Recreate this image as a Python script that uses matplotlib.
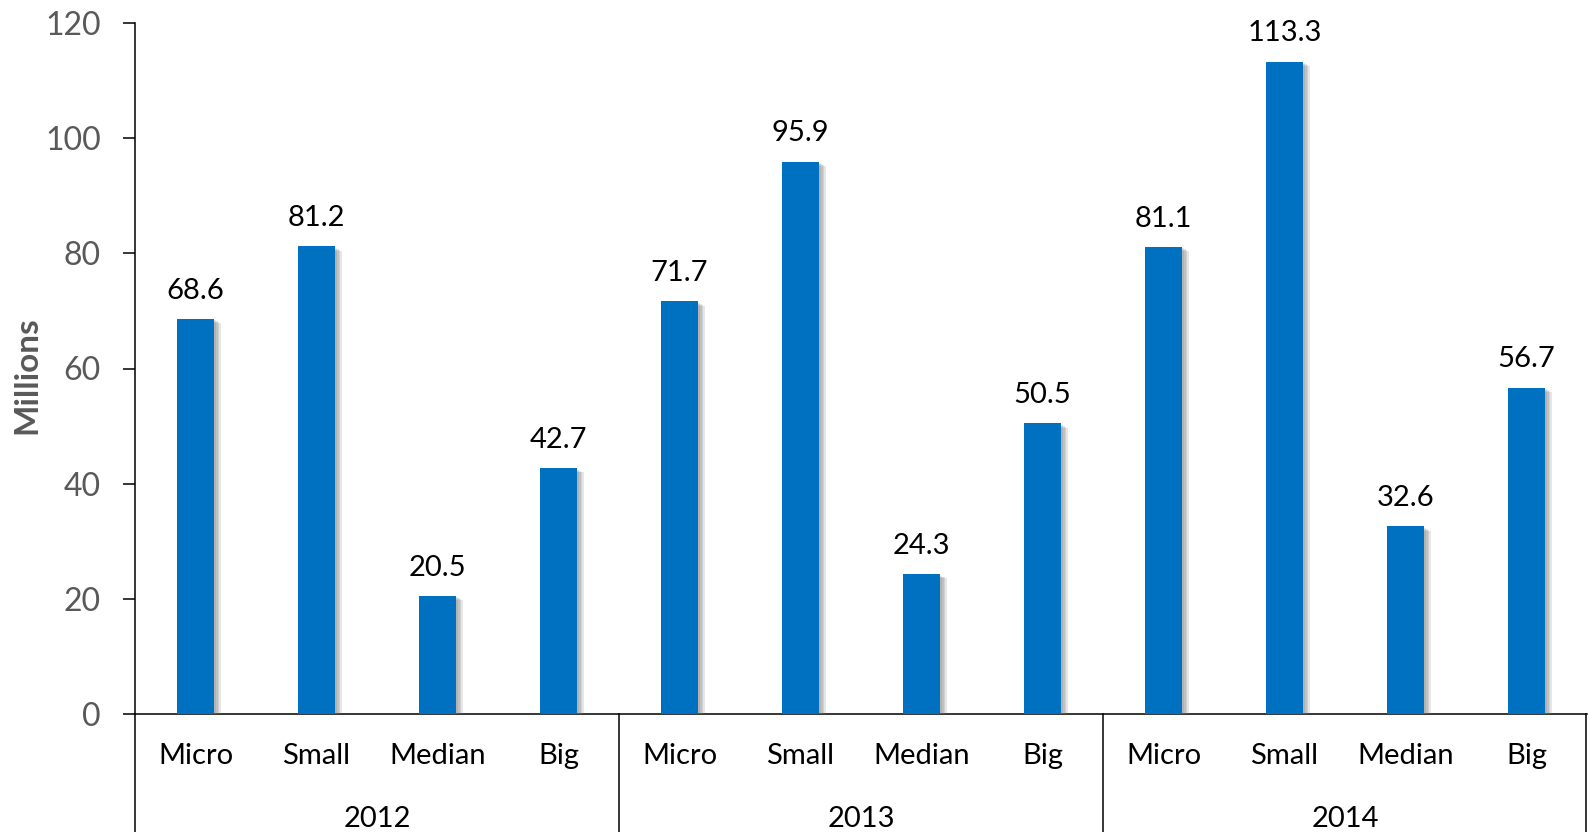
import matplotlib.pyplot as plt
import matplotlib.patheffects as pe
import numpy as np

years = ['2012', '2013', '2014']
sizes = ['Micro', 'Small', 'Median', 'Big']
values = [68.6, 81.2, 20.5, 42.7,
          71.7, 95.9, 24.3, 50.5,
          81.1, 113.3, 32.6, 56.7]

plt.rcParams['font.family'] = ['Lato', 'DejaVu Sans']

fig = plt.figure(figsize=(15.88, 8.32), dpi=100)
ax = fig.add_axes([135 / 1588, 1 - 714 / 832, 1452 / 1588, 691 / 832])

x = np.arange(len(values))
bars = ax.bar(x, values, width=0.31, color='#0070C0', zorder=3)
# soft drop shadow, stacked a few times to look blurred
shadow = [pe.SimplePatchShadow(offset=(o, -o * 0.7), shadow_rgbFace='#777777', alpha=0.18)
          for o in (4.5, 3.5, 2.5, 1.5)]
for b in bars:
    b.set_path_effects(shadow + [pe.Normal()])

for xi, v in zip(x, values):
    ax.annotate(f'{v:.1f}', (xi, v), xytext=(0, 11), textcoords='offset points',
                ha='center', va='bottom', fontsize=21, color='black')

ax.set_xlim(-0.5, len(values) - 0.5)
ax.set_ylim(0, 120)
ax.set_yticks(np.arange(0, 121, 20))
ax.tick_params(axis='y', direction='out', length=8.5, width=1.1, pad=16,
               labelsize=23, labelcolor='#595959', color='black')
ax.set_xticks([])

for s in ['top', 'right']:
    ax.spines[s].set_visible(False)
ax.spines['left'].set_linewidth(1.1)
ax.spines['bottom'].set_linewidth(1.1)

tr = ax.get_xaxis_transform()
for xi, lab in zip(x, sizes * len(years)):
    ax.text(xi, -0.061, lab, transform=tr, ha='center', va='center',
            fontsize=21, color='black', clip_on=False)
for i, yr in enumerate(years):
    ax.text(i * 4 + 1.5, -0.152, yr, transform=tr, ha='center', va='center',
            fontsize=21, color='black', clip_on=False)
for sep in [-0.5, 3.5, 7.5, 11.49]:
    ax.plot([sep, sep], [0, -0.3], transform=tr, color='black', lw=1.1, clip_on=False)

fig.text(27 / 1588, 1 - 375 / 832, 'Millions', rotation=90, ha='center', va='center',
         fontsize=24, fontweight='bold', color='#595959')

fig.savefig('out.png', dpi=100)
